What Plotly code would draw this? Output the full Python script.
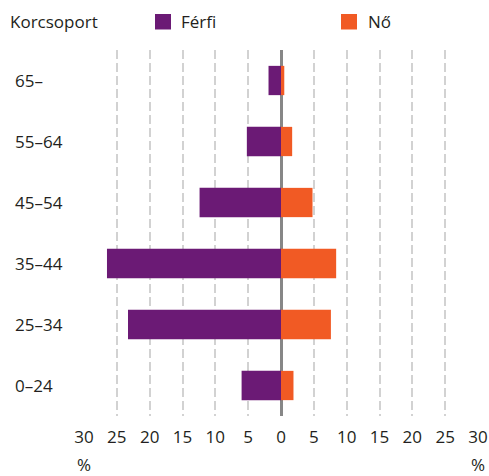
import plotly.graph_objects as go

age_groups = ["0–24", "25–34", "35–44", "45–54", "55–64", "65–"]
male_pct = [6.0, 23.3, 26.5, 12.4, 5.2, 1.9]
female_pct = [1.9, 7.6, 8.4, 4.8, 1.7, 0.5]
tick_values = [-30, -25, -20, -15, -10, -5, 0, 5, 10, 15, 20, 25, 30]
tick_labels = [str(abs(v)) for v in tick_values]
series_names = ["Férfi", "Nő"]
header_label = "Korcsoport"

PURPLE = "#6B1A75"
ORANGE = "#F15A24"
TEXT = "#231F20"
FONT = "Open Sans"

fig = go.Figure()
fig.add_trace(go.Bar(
    y=list(range(len(age_groups))), x=[-v for v in male_pct], orientation="h",
    name=series_names[0], marker=dict(color=PURPLE, line=dict(width=0)),
    showlegend=False,
))
fig.add_trace(go.Bar(
    y=list(range(len(age_groups))), x=female_pct, orientation="h",
    name=series_names[1], marker=dict(color=ORANGE, line=dict(width=0)),
    showlegend=False,
))

W, H = 489, 476
ml, mr, mt, mb = 84, 11, 50, 60
pw = W - ml - mr
ph = H - mt - mb

def px_x(p):
    return (p - ml) / pw

def px_y(p):
    return (H - mb - p) / ph

# category labels
for i, g in enumerate(age_groups):
    fig.add_annotation(x=px_x(13), xref="paper", y=i, yref="y", text=g,
                       showarrow=False, xanchor="left", yanchor="middle",
                       font=dict(size=17, color=TEXT, family=FONT))

# header + legend
fig.add_annotation(x=px_x(8), xref="paper", y=px_y(21), yref="paper", text=header_label,
                   showarrow=False, xanchor="left", yanchor="middle",
                   font=dict(size=17, color=TEXT, family=FONT))
for name, color, sq_x, tx in [(series_names[0], PURPLE, 155, 179), (series_names[1], ORANGE, 341, 365.5)]:
    fig.add_shape(type="rect", xref="paper", yref="paper",
                  x0=px_x(sq_x), x1=px_x(sq_x + 16), y0=px_y(29.5), y1=px_y(14),
                  fillcolor=color, line=dict(width=0))
    fig.add_annotation(x=px_x(tx), xref="paper", y=px_y(21), yref="paper", text=name,
                       showarrow=False, xanchor="left", yanchor="middle",
                       font=dict(size=17, color=TEXT, family=FONT))

# percent labels
for xv in (tick_values[0], tick_values[-1]):
    fig.add_annotation(x=xv, xref="x", y=px_y(464.5), yref="paper", text="%",
                       showarrow=False, xanchor="center", yanchor="middle",
                       font=dict(size=17, color=TEXT, family=FONT))

fig.update_layout(
    width=W, height=H, autosize=False,
    margin=dict(l=ml, r=mr, t=mt, b=mb, pad=0, autoexpand=False),
    barmode="relative", bargap=0.52,
    plot_bgcolor="white", paper_bgcolor="white",
    font=dict(family=FONT, size=17, color=TEXT),
    xaxis=dict(
        range=[-30, 30], tickvals=tick_values, ticktext=tick_labels,
        showgrid=True, gridcolor="#D2D2D2", griddash="9px,4px", gridwidth=1.5,
        zeroline=True, zerolinecolor="#878787", zerolinewidth=2.5,
        showline=False, ticks="", ticklabelstandoff=9,
        tickfont=dict(size=17, color=TEXT, family=FONT),
        fixedrange=True, automargin=False,
    ),
    yaxis=dict(
        range=[-0.5, 5.5], showticklabels=False, showgrid=False,
        zeroline=False, showline=False, ticks="", fixedrange=True,
        automargin=False,
    ),
)

fig.write_html(
    "out.html",
    config={"responsive": False, "displayModeBar": False},
    post_script="document.body.style.margin='0px';document.body.style.overflow='hidden';",
)
